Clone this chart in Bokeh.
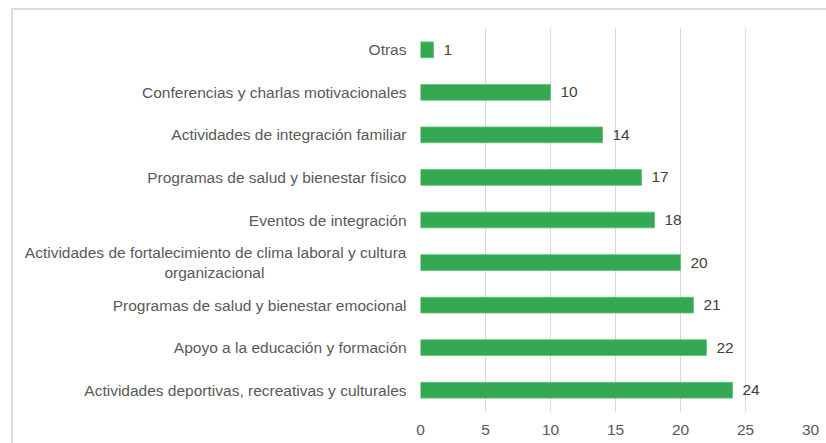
from bokeh.plotting import figure
from bokeh.models import ColumnDataSource, FactorRange, FixedTicker
from bokeh.core.properties import value
from bokeh.embed import file_html
from bokeh.resources import INLINE

NB = "\u00a0"
categories = [
    "Otras",
    "Conferencias y charlas motivacionales",
    "Actividades de integración familiar",
    "Programas de salud y bienestar físico",
    "Eventos de integración",
    "Actividades de fortalecimiento de clima laboral y cultura\norganizacional" + NB * 33,
    "Programas de salud y bienestar emocional",
    "Apoyo a la educación y formación",
    "Actividades deportivas, recreativas y culturales",
]
values = [1, 10, 14, 17, 18, 20, 21, 22, 24]
x_ticks = [0, 5, 10, 15, 20, 25, 30]

FONT = "Liberation Sans"
FS = "15.5px"

src = ColumnDataSource(dict(cat=categories, val=values, lab=[str(v) for v in values]))

p = figure(
    width=826, height=443,
    y_range=FactorRange(factors=list(reversed(categories)), range_padding=0),
    x_range=(0, 30),
    output_backend="svg", toolbar_location=None,
    min_border_left=420, min_border_top=28, min_border_right=16, min_border_bottom=32,
)
p.border_fill_color = None
p.styles = {"box-shadow": "inset 11px 8px 0 0 #ffffff, inset 13px 10px 0 0 #dcdcdc"}
p.outline_line_color = None

p.hbar(y="cat", right="val", left=0, height=0.37, source=src,
       fill_color="#34A853", line_color="#5cbf74", line_width=0.8)

p.text(x="val", y="cat", text="lab", source=src, x_offset=10,
       text_align="left", text_baseline="middle",
       text_font=value(FONT), text_font_size=FS, text_color="#404040")

p.xaxis.ticker = FixedTicker(ticks=x_ticks)
p.xaxis.axis_line_color = None
p.xaxis.major_tick_line_color = None
p.xaxis.minor_tick_line_color = None
p.xaxis.major_label_standoff = 7
p.xaxis.major_label_text_font = FONT
p.xaxis.major_label_text_font_size = FS
p.xaxis.major_label_text_color = "#595959"

p.yaxis.axis_line_color = None
p.yaxis.major_tick_line_color = None
p.yaxis.minor_tick_line_color = None
p.yaxis.major_label_standoff = 8
p.yaxis.major_label_text_font = FONT
p.yaxis.major_label_text_font_size = FS
p.yaxis.major_label_text_color = "#595959"

p.xgrid.grid_line_color = "#d9d9d9"
p.xgrid.ticker = FixedTicker(ticks=x_ticks)
p.ygrid.grid_line_color = None

open("out.html", "w").write(file_html(p, INLINE))
